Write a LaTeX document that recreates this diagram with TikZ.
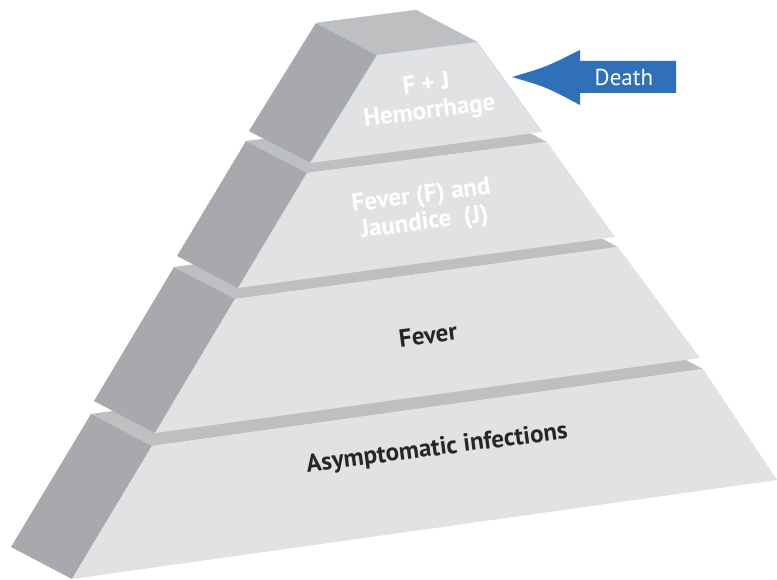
\documentclass[tikz,border=0pt]{standalone}
\usepackage{fontspec}
\setmainfont{PT Sans}
\definecolor{frontface}{HTML}{E1E2E4}
\definecolor{sideface}{HTML}{A8A9AD}
\definecolor{topface}{HTML}{BEBFC1}
\definecolor{rim}{HTML}{AFC6E0}
\definecolor{fatal}{HTML}{2F70B8}
\usetikzlibrary{calc}

\begin{document}
\begin{tikzpicture}[x=1pt, y=-1pt,
  front/.style={fill=frontface},
  side/.style={fill=sideface},
  ledge/.style={fill=topface},
  lbl/.style={font=\bfseries\fontsize{25}{27}\selectfont, align=center,
              rotate=7.4, inner sep=0pt},
]
\useasboundingbox (0,0) rectangle (777,580);

% front face corners of each tier, 4 = base
\coordinate (t4tl) at (152,446); \coordinate (t4tr) at (703,369);
\coordinate (t4br) at (777,480); \coordinate (t4bl) at (72,579);
\coordinate (t3tl) at (235,299); \coordinate (t3tr) at (618,247);
\coordinate (t3br) at (700,358); \coordinate (t3bl) at (155,433);
\coordinate (t2tl) at (307,173); \coordinate (t2tr) at (547,142);
\coordinate (t2br) at (615,237); \coordinate (t2bl) at (238,288);
\coordinate (t1tl) at (377,55);  \coordinate (t1tr) at (477,42);
\coordinate (t1br) at (542,132); \coordinate (t1bl) at (310,163);

\foreach \t in {4,3,2,1} {
  \fill[ledge] (t\t tl) -- (t\t tr) -- ($(t\t tr)+(-61,-32)$)
    -- ($(t\t tl)+(-61,-32)$) -- cycle;
  \fill[side] (t\t tl) -- ($(t\t tl)+(-61,-32)$)
    -- ($(t\t bl)+(-61,-32)$) -- (t\t bl) -- cycle;
  \fill[front] (t\t tl) -- (t\t tr) -- (t\t br) -- (t\t bl) -- cycle;
}
% thin rim on the top block
\draw[rim, line width=0.3pt, line join=round]
  (t1bl) -- (t1tl) -- (t1tr) -- (t1br)
  (t1tl) -- ($(t1tl)+(-61,-32)$) -- ($(t1tr)+(-61,-32)$) -- (t1tr)
  ($(t1tl)+(-61,-32)$) -- ($(t1bl)+(-61,-32)$) -- (t1bl);

\node[lbl, text=white] (hem) at (428,99) {F + J\\Hemorrhage};
\node[lbl, text=white] (jaun) at (423,210) {Fever (F) and\\Jaundice~~(J)};
\node[lbl, text=black!85] (fev) at (428,335) {Fever};
\node[lbl, text=black!85] (asym) at (437,449) {Asymptomatic infections};

% death arrow
\coordinate (tip) at (512,77);
\fill[fatal] (tip) .. controls (546,67) .. (580,50) -- (580,61) -- (676,61)
  -- (676,93) -- (580,93) -- (580,105) .. controls (546,87) .. (tip) -- cycle;
\node[font=\fontsize{23}{27}\selectfont, text=white] (death) at (624,77) {Death};
\end{tikzpicture}
\end{document}
